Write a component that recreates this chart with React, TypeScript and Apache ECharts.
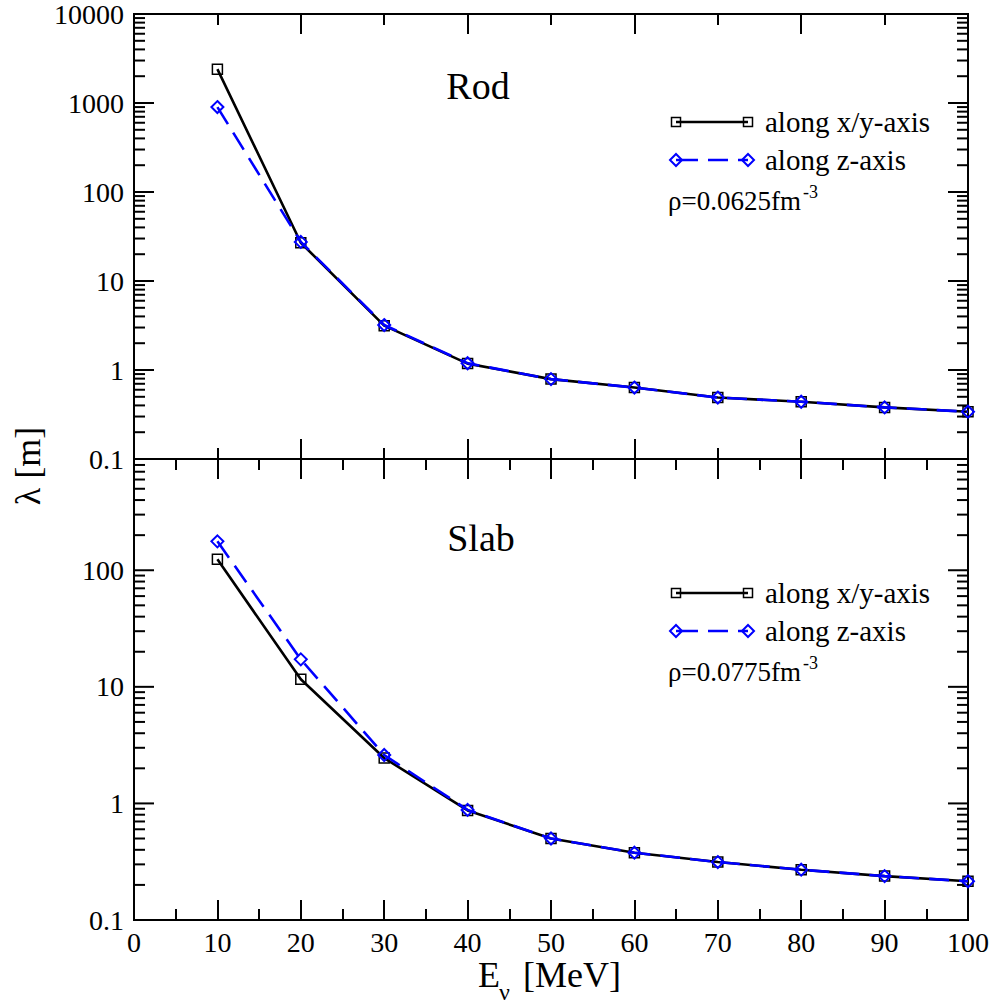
import React, { useEffect, useRef } from 'react';
import * as echarts from 'echarts';

// ---- data ----
const energies = [10, 20, 30, 40, 50, 60, 70, 80, 90, 100];
const rodAlongXY = [2400, 26.9, 3.15, 1.18, 0.79, 0.635, 0.49, 0.44, 0.38, 0.34];
const rodAlongZ = [900, 27.5, 3.2, 1.19, 0.79, 0.635, 0.49, 0.44, 0.38, 0.34];
const slabAlongXY = [124, 11.6, 2.45, 0.87, 0.5, 0.378, 0.314, 0.27, 0.238, 0.215];
const slabAlongZ = [177, 17.2, 2.6, 0.88, 0.5, 0.378, 0.314, 0.27, 0.238, 0.215];

const seriesNames = ['along x/y-axis', 'along z-axis'];
const panelTitles = ['Rod', 'Slab'];
const densityLabels = ['\u03c1=0.0625fm', '\u03c1=0.0775fm'];
const densityExponent = '-3';
const xAxisTitle = ['E', '\u03bd', ' [MeV]'];
const yAxisTitle = '\u03bb [m]';
const topYRange = [0.1, 10000];
const bottomYRange = [0.1, 900];
const xRange = [0, 100];

const FONT = "'Liberation Serif', 'Times New Roman', serif";
const DASH = [20, 10];

function logTicks(min: number, max: number) {
  // decoration ticks (major at powers of ten, minor at 2..9)
  const out: number[][] = [];
  for (let e = -1; e <= 4; e++) {
    for (let m = 1; m <= 9; m++) {
      const v = Number((m * Math.pow(10, e)).toPrecision(6));
      if (v > min * 1.0001 && v < max * 0.9999) out.push([0, v, m === 1 ? 20 : 11]);
    }
  }
  return out;
}

function yLabel(v: number) {
  const l = Math.log10(v);
  if (Math.abs(l - Math.round(l)) > 1e-6) return '';
  const r = Math.round(l);
  if (r < 0) return '0.1';
  return String(Math.round(Math.pow(10, r)));
}

function tickSeries(xIdx: number, yIdx: number, ticks: number[][]) {
  return {
    type: 'custom',
    xAxisIndex: xIdx,
    yAxisIndex: yIdx,
    silent: true,
    clip: false,
    z: 3,
    data: ticks,
    renderItem: (_p: any, api: any) => {
      const v = api.value(1);
      const len = api.value(2);
      const l = api.coord([xRange[0], v]);
      const r = api.coord([xRange[1], v]);
      return {
        type: 'group',
        children: [
          { type: 'line', shape: { x1: l[0], y1: l[1], x2: l[0] + len, y2: l[1] }, style: { stroke: '#000', lineWidth: 2 } },
          { type: 'line', shape: { x1: r[0] - len, y1: r[1], x2: r[0], y2: r[1] }, style: { stroke: '#000', lineWidth: 2 } },
        ],
      };
    },
  };
}

function xAxisDef(gridIndex: number, position: string, interval: number, labels: boolean) {
  return {
    type: 'value',
    gridIndex,
    position,
    min: xRange[0],
    max: xRange[1],
    interval,
    axisLine: { show: true, onZero: false, lineStyle: { color: '#000', width: 2 } },
    axisTick: { show: true, inside: true, length: 20, lineStyle: { color: '#000', width: 2 } },
    minorTick: { show: true, splitNumber: 2, length: 11, lineStyle: { color: '#000', width: 2 } },
    splitLine: { show: false },
    axisLabel: { show: labels, color: '#000', fontSize: 28, fontFamily: FONT, margin: 8 },
  };
}

function yAxisDef(gridIndex: number, range: number[]) {
  return {
    type: 'log',
    logBase: 10,
    gridIndex,
    min: range[0],
    max: range[1],
    axisLine: { show: true, onZero: false, lineStyle: { color: '#000', width: 2 } },
    axisTick: { show: false },
    splitLine: { show: false },
    axisLabel: { show: true, color: '#000', fontSize: 28, fontFamily: FONT, margin: 10, formatter: yLabel },
  };
}

function lineSeries(name: string, xIdx: number, yIdx: number, values: number[], blue: boolean) {
  return {
    type: 'line',
    name,
    xAxisIndex: xIdx,
    yAxisIndex: yIdx,
    data: energies.map((e, i) => [e, values[i]]),
    symbol: blue ? 'diamond' : 'rect',
    symbolSize: blue ? 12 : 10,
    showSymbol: true,
    z: blue ? 5 : 4,
    lineStyle: blue
      ? { color: '#0000ff', width: 2.6, type: DASH }
      : { color: '#000', width: 2.6, type: 'solid' },
    itemStyle: blue
      ? { color: 'rgba(0,0,0,0)', borderColor: '#0000ff', borderWidth: 2 }
      : { color: 'rgba(0,0,0,0)', borderColor: '#000', borderWidth: 1.5 },
  };
}

function legendBlock(y1: number, y2: number, yRho: number, yExp: number, rho: string, title: string, titleX: number, titleY: number) {
  const xa = 676;
  const xb = 748;
  const sq = (cx: number) => ({ type: 'rect', shape: { x: cx - 4.5, y: y1 - 4.5, width: 9, height: 9 }, style: { fill: 'none', stroke: '#000', lineWidth: 1.5 } });
  const dm = (cx: number) => ({ type: 'polygon', shape: { points: [[cx - 6, y2], [cx, y2 - 6], [cx + 6, y2], [cx, y2 + 6]] }, style: { fill: 'none', stroke: '#0000ff', lineWidth: 2 } });
  const txt = (x: number, y: number, text: string, size: number, align = 'left') => ({
    type: 'text', x, y, style: { text, fontSize: size, fontFamily: FONT, fill: '#000', align, verticalAlign: 'middle' },
  });
  return [
    { type: 'line', shape: { x1: xa, y1: y1, x2: xb, y2: y1 }, style: { stroke: '#000', lineWidth: 2.6 } },
    sq(xa), sq(xb),
    { type: 'line', shape: { x1: xa, y1: y2, x2: xb, y2: y2 }, style: { stroke: '#0000ff', lineWidth: 2.6, lineDash: [22, 10, 20, 10] } },
    dm(xa), dm(xb),
    txt(765, y1, seriesNames[0], 29),
    txt(765, y2, seriesNames[1], 29),
    txt(668, yRho, rho, 27),
    txt(803, yExp, densityExponent, 18),
    txt(titleX, titleY, title, 38, 'center'),
  ];
}

export default function App() {
  const ref = useRef<HTMLDivElement>(null);
  useEffect(() => {
    if (!ref.current) return;
    const chart = echarts.init(ref.current, undefined, { renderer: 'svg' });
    const option: any = {
      animation: false,
      backgroundColor: '#fff',
      grid: [
        { left: 134, right: 26, top: 14, height: 445, show: true, borderColor: '#000', borderWidth: 2, backgroundColor: 'transparent' },
        { left: 134, right: 26, top: 459, height: 461, show: true, borderColor: '#000', borderWidth: 2, backgroundColor: 'transparent' },
      ],
      xAxis: [
        xAxisDef(0, 'bottom', 20, false),
        xAxisDef(0, 'top', 20, false),
        xAxisDef(1, 'bottom', 10, true),
        xAxisDef(1, 'top', 10, false),
      ],
      yAxis: [yAxisDef(0, topYRange), yAxisDef(1, bottomYRange)],
      series: [
        tickSeries(0, 0, logTicks(topYRange[0], topYRange[1])),
        tickSeries(2, 1, logTicks(bottomYRange[0], bottomYRange[1])),
        lineSeries(seriesNames[0], 0, 0, rodAlongXY, false),
        lineSeries(seriesNames[1], 0, 0, rodAlongZ, true),
        lineSeries(seriesNames[0], 2, 1, slabAlongXY, false),
        lineSeries(seriesNames[1], 2, 1, slabAlongZ, true),
      ],
      graphic: [
        ...legendBlock(122, 160, 201, 192, densityLabels[0], panelTitles[0], 478, 86),
        ...legendBlock(593, 631, 672, 663, densityLabels[1], panelTitles[1], 481, 538),
        { type: 'text', x: 478, y: 975, style: { text: xAxisTitle[0], fontSize: 36, fontFamily: FONT, fill: '#000', align: 'left', verticalAlign: 'middle' } },
        { type: 'text', x: 499, y: 992, style: { text: xAxisTitle[1], fontSize: 24, fontFamily: FONT, fill: '#000', align: 'left', verticalAlign: 'middle' } },
        { type: 'text', x: 514, y: 975, style: { text: xAxisTitle[2], fontSize: 36, fontFamily: FONT, fill: '#000', align: 'left', verticalAlign: 'middle' } },
        { type: 'text', x: 28, y: 466, rotation: Math.PI / 2, style: { text: yAxisTitle, fontSize: 36, fontFamily: FONT, fill: '#000', align: 'center', verticalAlign: 'middle' } },
      ],
    };
    chart.setOption(option);
    return () => chart.dispose();
  }, []);
  return <div ref={ref} style={{ position: 'fixed', left: 0, top: 0, width: 994, height: 1005 }} />;
}
